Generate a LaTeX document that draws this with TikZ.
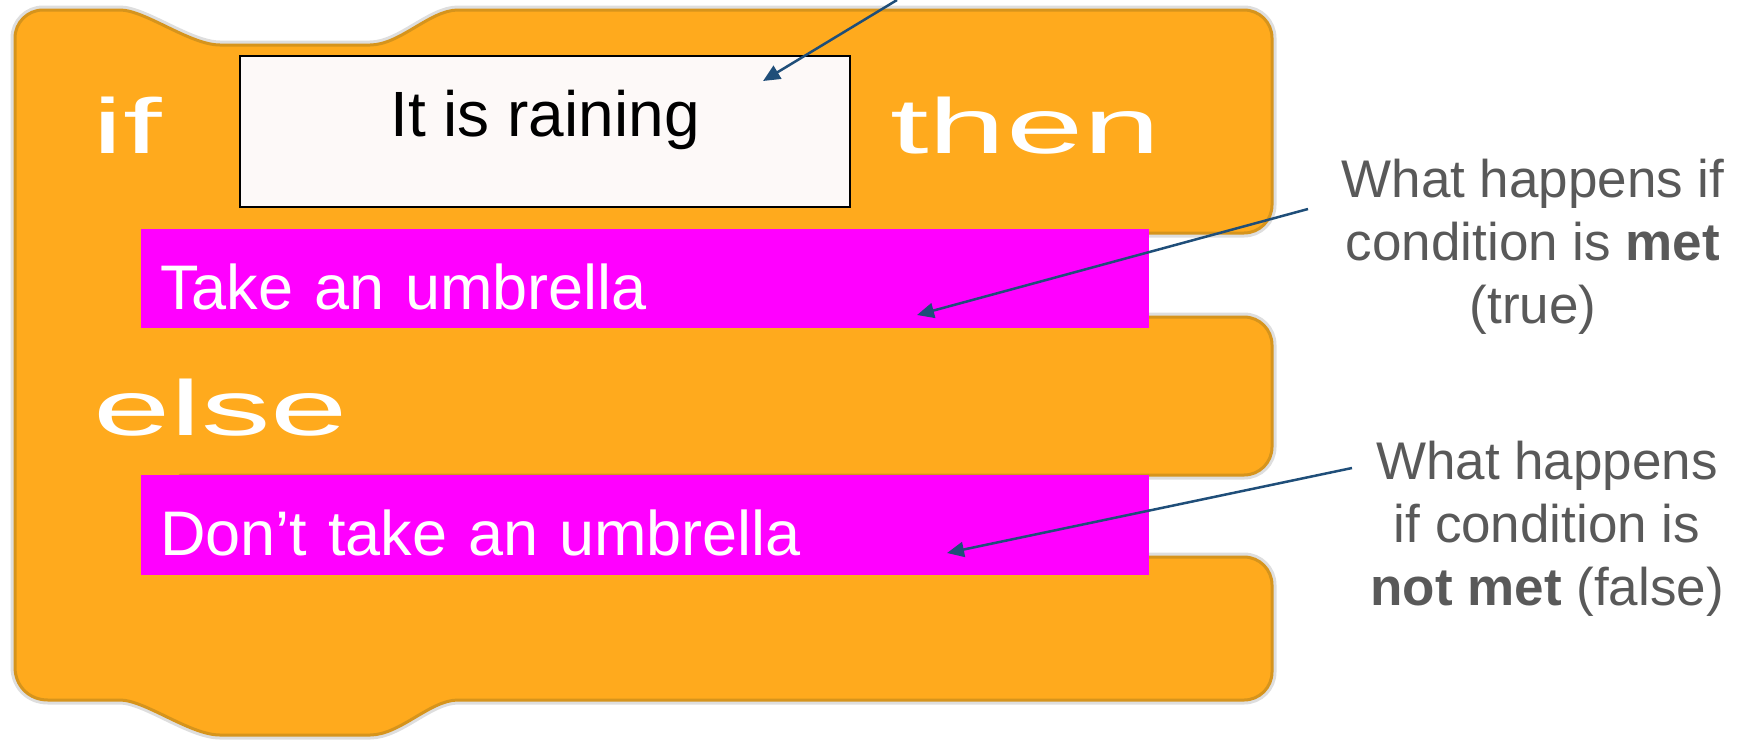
\documentclass[tikz,border=0pt]{standalone}
\usepackage{fontspec}
\setmainfont{Liberation Sans}
\usepackage{graphicx}
\usetikzlibrary{arrows.meta}

\definecolor{blockorange}{HTML}{FFAA1D}
\definecolor{blockedge}{HTML}{D6941C}
\definecolor{barmagenta}{HTML}{FF00FF}
\definecolor{condfill}{HTML}{FDF9F8}
\definecolor{pointerblue}{HTML}{1F4E79}
\definecolor{notegray}{HTML}{595959}

\tikzset{
  blockshape/.style={fill=blockorange, draw=blockedge, line width=3pt, line join=round,
    preaction={draw=black!13, line width=9pt}},
  condbox/.style={fill=condfill, draw=black, line width=2pt, inner sep=0pt,
    minimum width=610pt, minimum height=151pt, text height=40pt, text depth=31pt,
    font=\fontsize{64}{77}\selectfont},
  bar/.style={fill=barmagenta, text=white, anchor=north west, inner ysep=0pt, inner xsep=19pt,
    minimum width=1008pt, text width=970pt, align=left, text height=61pt, text depth=0pt,
    font=\fontsize{63}{75}\selectfont},
  keyword/.style={text=white, inner sep=0pt, anchor=base west, font=\fontsize{78}{90}\selectfont},
  note/.style={text=notegray, align=center, anchor=base, inner sep=0pt,
    font=\fontsize{53}{63}\selectfont},
  pointer/.style={draw=pointerblue, line width=2.5pt, -{Triangle[length=17pt,width=15pt]}},
}

\begin{document}
\begin{tikzpicture}[x=1pt, y=-1pt]
\useasboundingbox (0,0) rectangle (1740,740);

% the if / else block: spine, three arms, top notch and bottom tab
% (corners are quarter circles of radius 28 drawn as Bezier curves)
\draw[blockshape]
  (15,38) .. controls (15,22.5) and (27.5,10) .. (43,10)
  -- (120,10) .. controls (145,10) and (190,45) .. (220,45)
  -- (370,45) .. controls (400,45) and (430,10) .. (458,10)
  -- (1244,10) .. controls (1259.5,10) and (1272,22.5) .. (1272,38)
  -- (1272,205) .. controls (1272,220.5) and (1259.5,233) .. (1244,233)
  -- (180,233) -- (180,317)
  -- (1244,317) .. controls (1259.5,317) and (1272,329.5) .. (1272,345)
  -- (1272,447) .. controls (1272,462.5) and (1259.5,475) .. (1244,475)
  -- (180,475) -- (180,557)
  -- (1244,557) .. controls (1259.5,557) and (1272,569.5) .. (1272,585)
  -- (1272,672) .. controls (1272,687.5) and (1259.5,700) .. (1244,700)
  -- (458,700) .. controls (430,700) and (400,735) .. (370,735)
  -- (220,735) .. controls (190,735) and (145,700) .. (120,700)
  -- (48,700) .. controls (29,700) and (15,686) .. (15,667)
  -- cycle;

% keywords
\node[keyword] (kif) at (92,153) {\scalebox{1.78}[1]{if}};
\node[keyword] (kthen) at (890,153) {\scalebox{1.78}[1]{then}};
\node[keyword] (kelse) at (93,435) {\scalebox{1.78}[1]{else}};

% condition slot
\node[condbox] (cond) at (545,131.5) {It is raining};

% branch statements
\node[bar, minimum height=99pt] (take) at (141,229) {Take an umbrella};
\node[bar, minimum height=100pt] (dont) at (141,475) {Don’t take an umbrella};

% explanatory notes (anchored on the baseline of their last line)
\node[note] (metnote) at (1533,323) {What happens if\\condition is \textbf{met}\\(true)};
\node[note] (notmetnote) at (1547,605) {What happens\\if condition is\\\textbf{not met} (false)};

% pointers
\coordinate (p1) at (897,0);
\coordinate (t1) at (763,81);
\coordinate (p2) at (1308,209);
\coordinate (t2) at (917,315);
\coordinate (p3) at (1352,468);
\coordinate (t3) at (947,553);
\draw[pointer] (p1) -- (t1);
\draw[pointer] (p2) -- (t2);
\draw[pointer] (p3) -- (t3);
\end{tikzpicture}
\end{document}
